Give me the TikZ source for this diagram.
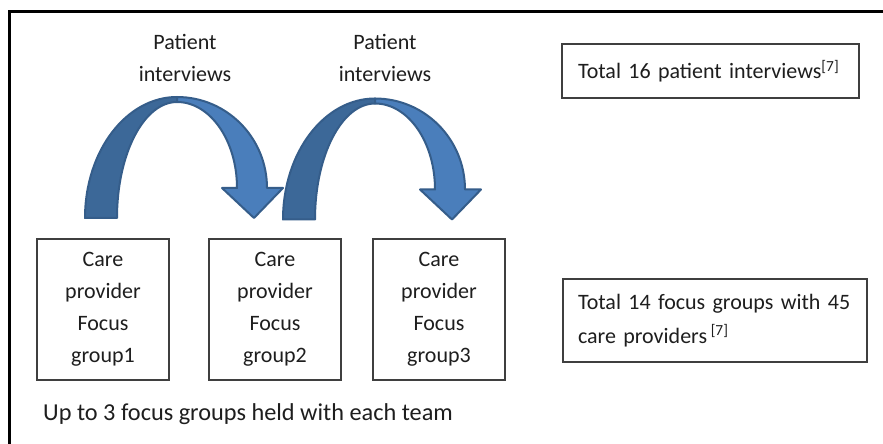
\documentclass[tikz,border=0pt]{standalone}
\usepackage{fontspec}
\setmainfont{Carlito}
\definecolor{boxgray}{HTML}{3F3F3F}
\definecolor{txt}{HTML}{1E1E1E}
\definecolor{arrowdark}{HTML}{3C6898}
\definecolor{arrowlight}{HTML}{4A7EBB}
\definecolor{arrowline}{HTML}{355D8A}
\begin{document}
\begin{tikzpicture}[x=1pt,y=1pt,
  fgbox/.style={draw=boxgray, line width=1.3pt, minimum width=132pt, minimum height=141pt,
    inner sep=0pt, align=center, font=\fontsize{22}{32}\selectfont, text=txt},
  totbox/.style={draw=boxgray, line width=1.3pt, inner ysep=0pt, align=left,
    font=\fontsize{22}{34}\selectfont, text=txt},
  lbl/.style={align=center, font=\fontsize{22}{32}\selectfont, text=txt, inner sep=0pt},
  arrowpart/.style={draw=arrowline, line width=2pt, line join=round},
  pics/curvedarrow/.style={code={
    \filldraw[arrowpart, fill=arrowdark] (85,226)
      arc[start angle=180, end angle=90, x radius=92, y radius=121]
      -- (177,342)
      arc[start angle=90, end angle=180, x radius=60, y radius=116]
      -- cycle;
    \filldraw[arrowpart, fill=arrowlight] (177,347)
      arc[start angle=90, end angle=0, x radius=90, y radius=91]
      -- (283,256) -- (254,226) -- (222,256) -- (237,256)
      arc[start angle=0, end angle=90, x radius=60, y radius=86]
      -- cycle;
  }}]
\useasboundingbox (0,0) rectangle (883,444);
\fill[white] (0,0) rectangle (883,444);
% outer frame (only left and top edges visible)
\draw[line width=2.5pt, line join=miter] (9.5,0) -- (9.5,432.7) -- (883,432.7);

% curved arrows
\pic (arrowA) at (0,0) {curvedarrow};
\pic (arrowB) at (198,-1.5) {curvedarrow};

% labels
\node[lbl] (lab1) at (185,386) {Patient\\interviews};
\node[lbl] (lab2) at (385,386) {Patient\\interviews};

% focus group boxes
\node[fgbox] (fg1) at (103,134.5) {Care\\provider\\Focus\\group1};
\node[fgbox] (fg2) at (275,134.5) {Care\\provider\\Focus\\group2};
\node[fgbox] (fg3) at (439,134.5) {Care\\provider\\Focus\\group3};

% totals
\node[totbox, minimum height=54pt, text width=265pt, inner xsep=16pt] (totA) at (710.5,373)
  {Total 16 patient interviews\textsuperscript{[7]}};
\node[totbox, minimum height=83pt, text width=274pt, inner xsep=15pt] (totB) at (715,123.5)
  {Total 14 focus groups with 45\\care providers\,\textsuperscript{[7]}};

% note
\node[anchor=base west, inner sep=0pt, font=\fontsize{24.3}{32}\selectfont, text=txt] (note) at (43,23)
  {Up to 3 focus groups held with each team};
\end{tikzpicture}
\end{document}
